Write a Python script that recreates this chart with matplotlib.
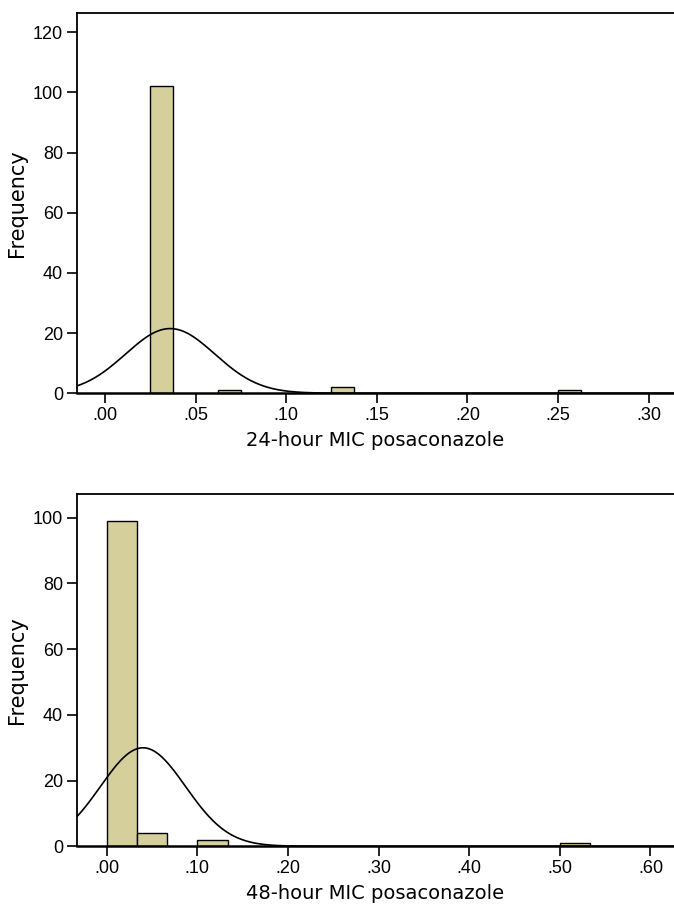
import numpy as np
import matplotlib
matplotlib.use("Agg")
import matplotlib.pyplot as plt
from matplotlib.ticker import FuncFormatter

# --- data ---
bins_24_left = [0.025, 0.0625, 0.125, 0.25]
counts_24 = [102, 1, 2, 1]
bin_width_24 = 0.0125
mean_24, sd_24, n_24 = 0.036, 0.0246, 106

bins_48_left = [0.0, 0.0333, 0.10, 0.50]
counts_48 = [99, 4, 2, 1]
bin_width_48 = 0.0333
mean_48, sd_48, n_48 = 0.040, 0.047, 106

xticks_24 = [0.00, 0.05, 0.10, 0.15, 0.20, 0.25, 0.30]
xticks_48 = [0.00, 0.10, 0.20, 0.30, 0.40, 0.50, 0.60]
yticks_24 = [0, 20, 40, 60, 80, 100, 120]
yticks_48 = [0, 20, 40, 60, 80, 100]

BAR = "#d4cf9b"
TICK_FONT = ["Liberation Sans", "DejaVu Sans"]


def dot_fmt(v, pos):
    s = f"{v:.2f}"
    return s[1:] if s.startswith("0") else s


def draw_panel(ax, lefts, counts, bw, mean, sd, n, xlim, ylim, xticks, yticks, xlabel):
    ax.bar(lefts, counts, width=bw, align="edge", color=BAR,
           edgecolor="black", linewidth=1.0, zorder=2)
    xs = np.linspace(xlim[0], xlim[1], 400)
    ys = n * bw / (sd * np.sqrt(2 * np.pi)) * np.exp(-0.5 * ((xs - mean) / sd) ** 2)
    ax.plot(xs, ys, color="black", linewidth=1.2, zorder=3)

    ax.set_xlim(*xlim)
    ax.set_ylim(*ylim)
    ax.set_xticks(xticks)
    ax.set_yticks(yticks)
    ax.xaxis.set_major_formatter(FuncFormatter(dot_fmt))
    ax.tick_params(direction="out", length=7, width=1.2, colors="black", pad=3)
    for lab in ax.get_xticklabels() + ax.get_yticklabels():
        lab.set_family(TICK_FONT)
        lab.set_fontsize(13)
    ax.spines["right"].set_visible(False)
    for s in ("left", "top"):
        ax.spines[s].set_linewidth(1.3)
    ax.spines["bottom"].set_linewidth(1.8)
    ax.set_ylabel("Frequency", fontsize=15, labelpad=4)
    ax.set_xlabel(xlabel, fontsize=14, labelpad=5)


fig = plt.figure(figsize=(6.74, 9.06), dpi=100)
ax1 = fig.add_axes([0.114, 0.566, 0.886, 0.42])
ax2 = fig.add_axes([0.114, 0.066, 0.886, 0.389])

draw_panel(ax1, bins_24_left, counts_24, bin_width_24, mean_24, sd_24, n_24,
           (-0.0155, 0.314), (0, 126.5), xticks_24, yticks_24,
           "24-hour MIC posaconazole")
draw_panel(ax2, bins_48_left, counts_48, bin_width_48, mean_48, sd_48, n_48,
           (-0.033, 0.626), (0, 107.3), xticks_48, yticks_48,
           "48-hour MIC posaconazole")

fig.savefig("out.png", dpi=100)
